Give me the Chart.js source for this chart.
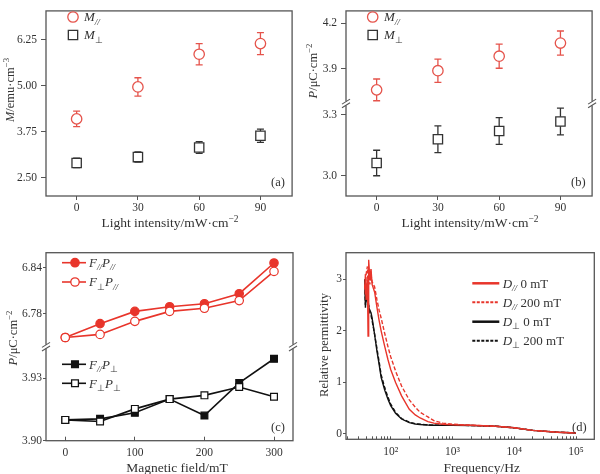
<!DOCTYPE html>
<html>
<head>
<meta charset="utf-8">
<script src="https://cdn.jsdelivr.net/npm/chart.js@4.4.0/dist/chart.umd.min.js"></script>
<style>
  body { margin: 0; background: #fff; }
  #wrap { position: relative; width: 600px; height: 474px; overflow: hidden; }
  canvas { position: absolute; }
</style>
</head>
<body>
<div id="wrap">
  <canvas id="chartA" width="300" height="232" style="left:0;top:0"></canvas>
  <canvas id="chartB" width="300" height="232" style="left:300px;top:0"></canvas>
  <canvas id="chartC" width="300" height="242" style="left:0;top:232px"></canvas>
  <canvas id="chartD" width="300" height="242" style="left:300px;top:232px"></canvas>
</div>
<script>
// (a) magnetisation vs light intensity
const lightIntensity = [0, 30, 60, 90];
const lightTicks = [0, 30, 60, 90];
const magPar = [4.10, 4.97, 5.86, 6.15];
const magParErr = [0.21, 0.25, 0.29, 0.30];
const magPerp = [2.90, 3.06, 3.32, 3.64];
const magPerpErr = [0.13, 0.14, 0.16, 0.18];
const magTicks = [2.50, 3.75, 5.00, 6.25];

// (b) polarisation vs light intensity (broken axis)
const polPar = [3.76, 3.887, 3.983, 4.07];
const polParErr = [0.072, 0.077, 0.080, 0.080];
const polPerp = [3.063, 3.18, 3.221, 3.268];
const polPerpErr = [0.063, 0.066, 0.066, 0.066];
const polUpTicks = [3.9, 4.2];
const polLoTicks = [3.0, 3.3];

// (c) polarisation vs magnetic field (broken axis)
const field = [0, 50, 100, 150, 200, 250, 300];
const fieldTicks = [0, 100, 200, 300];
const fParPPar = [6.749, 6.767, 6.783, 6.789, 6.793, 6.806, 6.846];
const fPerpPPar = [6.749, 6.753, 6.770, 6.783, 6.787, 6.797, 6.835];
const fParPPerp = [3.910, 3.9105, 3.9134, 3.920, 3.9121, 3.9278, 3.9394];
const fPerpPPerp = [3.910, 3.9092, 3.9153, 3.920, 3.9218, 3.9258, 3.9211];
const fieldUpTicks = [6.78, 6.84];
const fieldLoTicks = [3.90, 3.93];

// (d) relative permittivity vs frequency
const freq = [38, 39, 40, 42, 43, 44, 46, 48, 50, 55, 60, 65, 70, 80, 90, 100, 120, 150, 200, 250, 300, 400, 500, 700, 1000, 2000, 5000, 10000, 20000, 50000, 100000];
const dParZero = [2.8, 3.1, 2.6, 3.0, 1.9, 3.38, 3.0, 3.2, 2.9, 2.75, 2.45, 2.2, 2.0, 1.7, 1.45, 1.25, 1.0, 0.74, 0.48, 0.37, 0.31, 0.24, 0.21, 0.19, 0.18, 0.17, 0.15, 0.12, 0.07, 0.035, 0.02];
const dParField = [2.9, 2.7, 3.1, 3.25, 2.8, 3.2, 2.9, 3.1, 2.95, 2.85, 2.6, 2.4, 2.25, 1.95, 1.7, 1.5, 1.22, 0.93, 0.66, 0.52, 0.42, 0.33, 0.26, 0.21, 0.19, 0.17, 0.15, 0.12, 0.07, 0.035, 0.02];
const dPerpZero = [3.0, 2.45, 2.8, 2.55, 2.5, 2.45, 2.4, 2.35, 2.25, 1.92, 1.6, 1.35, 1.1, 0.85, 0.68, 0.55, 0.40, 0.29, 0.22, 0.195, 0.185, 0.175, 0.17, 0.17, 0.17, 0.165, 0.15, 0.12, 0.07, 0.035, 0.02];
const dPerpField = [2.9, 2.5, 2.6, 2.6, 2.45, 2.5, 2.35, 2.3, 2.2, 1.93, 1.65, 1.4, 1.15, 0.9, 0.72, 0.58, 0.42, 0.30, 0.23, 0.2, 0.19, 0.175, 0.17, 0.17, 0.17, 0.165, 0.15, 0.12, 0.07, 0.035, 0.02];
const freqTicks = [100, 1000, 10000, 100000];
const freqTickLabels = ['10²', '10³', '10⁴', '10⁵'];
const permTicks = [0, 1, 2, 3];

const SERIF = '"Liberation Serif", "Times New Roman", serif';
const TXT = '#333';
const FRAME = '#555';
const RED_A = '#e5534b';
const RED_C = '#e8352b';
const DARK = '#333';
const BLACK = '#111';

const pts = (xs, ys) => xs.map((x, i) => ({x, y: ys[i]}));

function makeScale(o) {
  const s = {
    type: o.type || 'linear',
    position: o.position,
    min: o.min,
    max: o.max,
    border: {display: false},
    grid: {drawOnChartArea: false, drawTicks: true, tickLength: o.tick, tickColor: FRAME, tickWidth: 1},
    ticks: {color: TXT, font: {family: SERIF, size: o.font || 11.5}, padding: o.pad, autoSkip: false, maxRotation: 0, callback: o.fmt},
    afterBuildTicks: sc => { sc.ticks = o.values.map(v => ({value: v})); },
    afterFit: sc => {
      if (o.width != null) sc.width = o.width;
      if (o.height != null) sc.height = o.height;
    }
  };
  if (o.stack) {
    s.stack = o.stack;
    s.stackWeight = o.stackWeight;
    s.weight = o.weight;
  }
  return s;
}

function drawRich(ctx, parts, x, y, size, align) {
  let total = 0;
  const fonts = parts.map(([t, s]) => {
    const small = s === 'sub' || s === 'sup' || s === 'isub';
    const sz = small ? size * 0.7 : size;
    const f = (s === 'i' || s === 'isub' ? 'italic ' : '') + sz + 'px ' + SERIF;
    ctx.font = f;
    const w = ctx.measureText(t).width;
    total += w;
    return {f, w};
  });
  let cx = align === 'center' ? x - total / 2 : (align === 'right' ? x - total : x);
  ctx.textAlign = 'left';
  ctx.textBaseline = 'alphabetic';
  parts.forEach(([t, s], i) => {
    ctx.font = fonts[i].f;
    const dy = (s === 'sub' || s === 'isub') ? size * 0.25 : (s === 'sup' ? -size * 0.4 : 0);
    ctx.fillText(t, cx, y + dy);
    cx += fonts[i].w;
  });
}

function drawMarker(ctx, kind, x, y, r, color, fill, lw) {
  ctx.beginPath();
  if (kind === 'circle') {
    ctx.arc(x, y, r, 0, Math.PI * 2);
  } else {
    const h = r * Math.SQRT1_2;
    ctx.rect(x - h, y - h, 2 * h, 2 * h);
  }
  ctx.fillStyle = fill;
  ctx.fill();
  ctx.strokeStyle = color;
  ctx.lineWidth = lw;
  ctx.stroke();
}

// frame, axis breaks, error bars, legends and titles
function decor(spec) {
  return {
    id: 'decor',
    beforeDatasetsDraw(chart) {
      const ctx = chart.ctx, a = chart.chartArea;
      ctx.save();
      ctx.strokeStyle = FRAME;
      ctx.lineWidth = 1.3;
      ctx.strokeRect(a.left, a.top, a.right - a.left, a.bottom - a.top);
      if (spec.breakScale) {
        const yb = chart.scales[spec.breakScale].bottom;
        [a.left, a.right].forEach(x => {
          ctx.fillStyle = '#fff';
          ctx.fillRect(x - 2, yb - 2, 4, 4);
          ctx.strokeStyle = FRAME;
          ctx.lineWidth = 1.1;
          [-1.8, 1.8].forEach(d => {
            ctx.beginPath();
            ctx.moveTo(x - 4, yb + d + 2.5);
            ctx.lineTo(x + 4, yb + d - 2.5);
            ctx.stroke();
          });
        });
      }
      (spec.errors || []).forEach(e => {
        const meta = chart.getDatasetMeta(e.dataset);
        const ys = chart.scales[meta.yAxisID];
        const data = chart.data.datasets[e.dataset].data;
        ctx.strokeStyle = e.color;
        ctx.lineWidth = 1.3;
        meta.data.forEach((pt, i) => {
          const y1 = ys.getPixelForValue(data[i].y + e.err[i]);
          const y2 = ys.getPixelForValue(data[i].y - e.err[i]);
          ctx.beginPath();
          ctx.moveTo(pt.x, y1); ctx.lineTo(pt.x, y2);
          ctx.moveTo(pt.x - 3.5, y1); ctx.lineTo(pt.x + 3.5, y1);
          ctx.moveTo(pt.x - 3.5, y2); ctx.lineTo(pt.x + 3.5, y2);
          ctx.stroke();
        });
      });
      ctx.restore();
    },
    afterDraw(chart) {
      const ctx = chart.ctx;
      ctx.save();
      ctx.fillStyle = TXT;
      (spec.legend || []).forEach(it => {
        if (it.line) {
          ctx.beginPath();
          ctx.strokeStyle = it.color;
          ctx.lineWidth = it.lw || 1.5;
          ctx.setLineDash(it.dash || []);
          ctx.moveTo(it.line[0], it.y);
          ctx.lineTo(it.line[1], it.y);
          ctx.stroke();
          ctx.setLineDash([]);
        }
        if (it.marker) {
          drawMarker(ctx, it.marker, it.x, it.y, it.r, it.color, it.fill, 1.3);
        }
        ctx.fillStyle = TXT;
        drawRich(ctx, it.parts, it.tx, it.y + 4.3, it.size || 13, 'left');
      });
      (spec.titles || []).forEach(t => {
        ctx.save();
        ctx.fillStyle = TXT;
        ctx.translate(t.x, t.y);
        if (t.rot) ctx.rotate(-Math.PI / 2);
        drawRich(ctx, t.parts, 0, t.size * 0.33, t.size, 'center');
        ctx.restore();
      });
      ctx.restore();
    }
  };
}

function baseOptions(pad, scales) {
  return {
    responsive: false,
    animation: false,
    devicePixelRatio: 1,
    events: [],
    layout: {padding: pad},
    plugins: {legend: {display: false}, tooltip: {enabled: false}},
    scales: scales
  };
}

const titleLight = [['Light intensity/mW·cm', ''], ['−2', 'sup']];
const titlePol = [['P', 'i'], ['/μC·cm', ''], ['−2', 'sup']];

// (a)
new Chart(document.getElementById('chartA'), {
  type: 'scatter',
  data: {
    datasets: [
      {data: pts(lightIntensity, magPar), pointStyle: 'circle', pointRadius: 5.2, borderColor: RED_A, backgroundColor: '#fff', borderWidth: 1.3},
      {data: pts(lightIntensity, magPerp), pointStyle: 'rect', pointRadius: 6.6, borderColor: DARK, backgroundColor: '#fff', borderWidth: 1.3}
    ]
  },
  options: baseOptions({top: 4, right: 5, left: 0, bottom: 0}, {
    x: makeScale({position: 'bottom', min: -15, max: 105.5, values: lightTicks, tick: 4, pad: 1, height: 36}),
    y: makeScale({position: 'left', min: 2.0, max: 7.04, values: magTicks, tick: 5, pad: 4, width: 46, fmt: v => v.toFixed(2)})
  }),
  plugins: [decor({
    errors: [{dataset: 0, err: magParErr, color: RED_A}, {dataset: 1, err: magPerpErr, color: DARK}],
    legend: [
      {marker: 'circle', x: 73, y: 17, r: 5.2, color: RED_A, fill: '#fff', tx: 84, parts: [['M', 'i'], ['//', 'isub']]},
      {marker: 'rect', x: 73, y: 35, r: 6.6, color: DARK, fill: '#fff', tx: 84, parts: [['M', 'i'], ['⊥', 'sub']]},
      {x: 0, y: 182, tx: 271, size: 12.5, parts: [['(a)', '']]}
    ],
    titles: [
      {x: 10, y: 90, rot: true, size: 12.5, parts: [['M', 'i'], ['/emu·cm', ''], ['−3', 'sup']]},
      {x: 170, y: 223, size: 13.5, parts: titleLight}
    ]
  })]
});

// (b)
new Chart(document.getElementById('chartB'), {
  type: 'scatter',
  data: {
    datasets: [
      {data: pts(lightIntensity, polPar), yAxisID: 'yUp', pointStyle: 'circle', pointRadius: 5.2, borderColor: RED_A, backgroundColor: '#fff', borderWidth: 1.3},
      {data: pts(lightIntensity, polPerp), yAxisID: 'yLo', pointStyle: 'rect', pointRadius: 6.6, borderColor: DARK, backgroundColor: '#fff', borderWidth: 1.3}
    ]
  },
  options: baseOptions({top: 4, right: 5, left: 0, bottom: 0}, {
    x: makeScale({position: 'bottom', min: -15, max: 105.5, values: lightTicks, tick: 4, pad: 1, height: 36}),
    yLo: makeScale({position: 'left', min: 2.9, max: 3.357, values: polLoTicks, tick: 5, pad: 4, width: 46, fmt: v => v.toFixed(1), stack: 'p', stackWeight: 1, weight: 1}),
    yUp: makeScale({position: 'left', min: 3.67, max: 4.283, values: polUpTicks, tick: 5, pad: 4, width: 46, fmt: v => v.toFixed(1), stack: 'p', stackWeight: 1, weight: 2})
  }),
  plugins: [decor({
    breakScale: 'yUp',
    errors: [{dataset: 0, err: polParErr, color: RED_A}, {dataset: 1, err: polPerpErr, color: DARK}],
    legend: [
      {marker: 'circle', x: 72.7, y: 17, r: 5.2, color: RED_A, fill: '#fff', tx: 84, parts: [['M', 'i'], ['//', 'isub']]},
      {marker: 'rect', x: 72.7, y: 35, r: 6.6, color: DARK, fill: '#fff', tx: 84, parts: [['M', 'i'], ['⊥', 'sub']]},
      {x: 0, y: 182, tx: 271, size: 12.5, parts: [['(b)', '']]}
    ],
    titles: [
      {x: 13, y: 71, rot: true, size: 12.5, parts: titlePol},
      {x: 170, y: 223, size: 13.5, parts: titleLight}
    ]
  })]
});

// (c)
new Chart(document.getElementById('chartC'), {
  type: 'line',
  data: {
    datasets: [
      {data: pts(field, fPerpPPar), yAxisID: 'yUp', borderColor: RED_C, borderWidth: 1.6, pointStyle: 'circle', pointRadius: 4.2, pointBackgroundColor: '#fff', pointBorderColor: RED_C, pointBorderWidth: 1.2},
      {data: pts(field, fParPPar), yAxisID: 'yUp', borderColor: RED_C, borderWidth: 1.6, pointStyle: 'circle', pointRadius: 4.2, pointBackgroundColor: RED_C, pointBorderColor: RED_C, pointBorderWidth: 1.2},
      {data: pts(field, fPerpPPerp), yAxisID: 'yLo', borderColor: BLACK, borderWidth: 1.6, pointStyle: 'rect', pointRadius: 4.8, pointBackgroundColor: '#fff', pointBorderColor: BLACK, pointBorderWidth: 1.2},
      {data: pts(field, fParPPerp), yAxisID: 'yLo', borderColor: BLACK, borderWidth: 1.6, pointStyle: 'rect', pointRadius: 4.8, pointBackgroundColor: BLACK, pointBorderColor: BLACK, pointBorderWidth: 1.2}
    ]
  },
  options: baseOptions({top: 20.7, right: 7, left: 0, bottom: 0}, {
    x: makeScale({type: 'linear', position: 'bottom', min: -27.7, max: 327.3, values: fieldTicks, tick: -4, pad: 9, height: 33.3}),
    yLo: makeScale({position: 'left', min: 3.90, max: 3.9452, values: fieldLoTicks, tick: 3, pad: 1, width: 46, fmt: v => v.toFixed(2), stack: 'c', stackWeight: 1, weight: 1}),
    yUp: makeScale({position: 'left', min: 6.737, max: 6.8594, values: fieldUpTicks, tick: 3, pad: 1, width: 46, fmt: v => v.toFixed(2), stack: 'c', stackWeight: 1, weight: 2})
  }),
  plugins: [decor({
    breakScale: 'yUp',
    legend: [
      {line: [62, 86], color: RED_C, lw: 1.6, marker: 'circle', x: 75, y: 30.7, r: 4.2, fill: RED_C, tx: 89, parts: [['F', 'i'], ['//', 'isub'], ['P', 'i'], ['//', 'isub']]},
      {line: [62, 86], color: RED_C, lw: 1.6, marker: 'circle', x: 75, y: 50, r: 4.2, fill: '#fff', tx: 89, parts: [['F', 'i'], ['⊥', 'sub'], ['P', 'i'], ['//', 'isub']]},
      {line: [62, 86], color: BLACK, lw: 1.6, marker: 'rect', x: 75, y: 132.3, r: 4.8, fill: BLACK, tx: 89, parts: [['F', 'i'], ['//', 'isub'], ['P', 'i'], ['⊥', 'sub']]},
      {line: [62, 86], color: BLACK, lw: 1.6, marker: 'rect', x: 75, y: 151.3, r: 4.8, fill: '#fff', tx: 89, parts: [['F', 'i'], ['⊥', 'sub'], ['P', 'i'], ['⊥', 'sub']]},
      {x: 0, y: 195, tx: 271, size: 12.5, parts: [['(c)', '']]}
    ],
    titles: [
      {x: 13, y: 106, rot: true, size: 12.5, parts: titlePol},
      {x: 177, y: 235.5, size: 13.5, parts: [['Magnetic field/mT', '']]}
    ]
  })]
});

// (d)
const minorFreq = [];
[10, 100, 1000, 10000, 100000].forEach(p => {
  for (let k = 1; k < 10; k++) {
    const v = p * k;
    if (v > 18.9 && v < 197000) minorFreq.push(v);
  }
});

new Chart(document.getElementById('chartD'), {
  type: 'line',
  data: {
    datasets: [
      {data: pts(freq, dParZero), borderColor: RED_C, borderWidth: 1.4, pointRadius: 0},
      {data: pts(freq, dParField), borderColor: RED_C, borderWidth: 1.4, borderDash: [4, 2], pointRadius: 0},
      {data: pts(freq, dPerpZero), borderColor: BLACK, borderWidth: 1.4, pointRadius: 0},
      {data: pts(freq, dPerpField), borderColor: BLACK, borderWidth: 1.4, borderDash: [4, 2], pointRadius: 0}
    ]
  },
  options: baseOptions({top: 20.7, right: 5.7, left: 0, bottom: 0}, {
    x: makeScale({type: 'logarithmic', position: 'bottom', min: 18.9, max: 197700, values: minorFreq, tick: -3, pad: 9, height: 34.7,
      fmt: v => { const i = freqTicks.indexOf(v); return i >= 0 ? freqTickLabels[i] : ''; }}),
    y: makeScale({position: 'left', min: -0.103, max: 3.516, values: permTicks, tick: 3, pad: 1, width: 46, fmt: v => String(v)})
  }),
  plugins: [decor({
    legend: [
      {line: [172.3, 199.3], color: RED_C, lw: 2.5, y: 51.3, tx: 202.7, parts: [['D', 'i'], ['//', 'isub'], [' 0 mT', '']]},
      {line: [172.3, 199.3], color: RED_C, lw: 2, dash: [3, 1.5], y: 70.3, tx: 202.7, parts: [['D', 'i'], ['//', 'isub'], [' 200 mT', '']]},
      {line: [172.3, 199.3], color: BLACK, lw: 2.5, y: 89.7, tx: 202.7, parts: [['D', 'i'], ['⊥', 'sub'], [' 0 mT', '']]},
      {line: [172.3, 199.3], color: BLACK, lw: 2, dash: [3, 1.5], y: 108.7, tx: 202.7, parts: [['D', 'i'], ['⊥', 'sub'], [' 200 mT', '']]},
      {x: 0, y: 195, tx: 272, size: 12.5, parts: [['(d)', '']]}
    ],
    titles: [
      {x: 24, y: 113, rot: true, size: 12.5, parts: [['Relative permittivity', '']]},
      {x: 181.7, y: 235.5, size: 13.5, parts: [['Frequency/Hz', '']]}
    ]
  })]
});
</script>
</body>
</html>
